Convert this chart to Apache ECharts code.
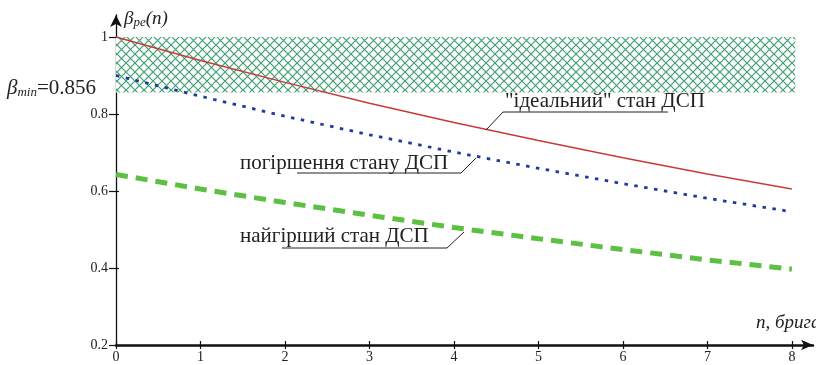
<!DOCTYPE html>
<html><head><meta charset="utf-8">
<script src="https://cdn.jsdelivr.net/npm/echarts@6/dist/echarts.min.js"></script>
<style>html,body{margin:0;padding:0;background:#fff}#c{width:816px;height:365px}</style>
</head><body><div id="c"></div>
<script>
var nValues = [0, 1, 2, 3, 4, 5, 6, 7, 8];
var idealState = [1.000, 0.939, 0.882, 0.828, 0.778, 0.731, 0.686, 0.644, 0.605];
var degradedState = [0.900, 0.846, 0.794, 0.746, 0.701, 0.659, 0.619, 0.581, 0.546];
var worstState = [0.643, 0.605, 0.570, 0.537, 0.505, 0.476, 0.448, 0.421, 0.397];
var yTicks = [0.2, 0.4, 0.6, 0.8, 1];
var xTicks = [0, 1, 2, 3, 4, 5, 6, 7, 8];
var betaMin = 0.856;
var betaMax = 1;

function pairs(vals){ return nValues.map(function(n,i){ return [n, vals[i]]; }); }

var pc = document.createElement('canvas');
pc.width = 9; pc.height = 9;
var cx = pc.getContext('2d');
cx.fillStyle = '#ffffff'; cx.fillRect(0,0,9,9);
cx.strokeStyle = '#3f9f72'; cx.lineWidth = 1.2;
cx.beginPath(); cx.moveTo(0,0); cx.lineTo(9,9); cx.moveTo(9,0); cx.lineTo(0,9); cx.stroke();

var serif = '"Liberation Serif", "DejaVu Serif", serif';
var chart = echarts.init(document.getElementById('c'), null, {renderer:'canvas'});
var option = {
  animation: false,
  backgroundColor: '#fff',
  grid: {left: 116, right: 3, top: 15, bottom: 20},
  xAxis: [{
    type: 'value', min: 0, max: 8.25,
    splitLine: {show: false},
    axisLine: {onZero: false, lineStyle: {color: '#111', width: 2.5}, symbol: ['none', 'arrow'], symbolSize: [8, 12]},
    axisTick: {customValues: xTicks, length: 4, lineStyle: {color: '#111', width: 1.2}},
    axisLabel: {customValues: xTicks, fontFamily: serif, fontSize: 14, color: '#222', margin: 5, formatter: function(v){return String(v);}}
  }, {
    type: 'value', min: 0, max: 8.25, position: 'bottom',
    splitLine: {show: false}, axisLine: {show: false}, axisLabel: {show: false},
    axisTick: {customValues: xTicks, inside: true, length: 4, lineStyle: {color: '#111', width: 1.2}}
  }],
  yAxis: [{
    type: 'value', min: 0.2, max: 1.057,
    splitLine: {show: false},
    axisLine: {onZero: false, lineStyle: {color: '#111', width: 1.3}, symbol: ['none', 'arrow'], symbolSize: [9, 12]},
    axisTick: {customValues: yTicks, length: 7, lineStyle: {color: '#111', width: 1.2}},
    axisLabel: {customValues: yTicks, fontFamily: serif, fontSize: 14, color: '#222', margin: 8, formatter: function(v){return String(v);}}
  }, {
    type: 'value', min: 0.2, max: 1.057, position: 'left',
    splitLine: {show: false}, axisLine: {show: false}, axisLabel: {show: false},
    axisTick: {customValues: yTicks, inside: true, length: 3, lineStyle: {color: '#111', width: 1.2}}
  }],
  series: [{
    type: 'line', name: 'ideal', data: pairs(idealState), showSymbol: false, smooth: false,
    lineStyle: {color: '#c83a3a', width: 1.5},
    z: 5,
    markArea: {
      silent: true,
      itemStyle: {color: {image: pc, repeat: 'repeat'}, opacity: 1},
      data: [[{coord: [0, betaMin]}, {coord: [8.04, betaMax]}]]
    }
  }, {
    type: 'line', name: 'degraded', data: pairs(degradedState), showSymbol: false,
    lineStyle: {color: '#1c3c9c', width: 2.8, type: [3.5, 6.5]}, z: 5
  }, {
    type: 'line', name: 'worst', data: pairs(worstState), showSymbol: false,
    lineStyle: {color: '#5cc043', width: 5, type: [12, 8]}, z: 5
  }],
  graphic: [
    {type: 'text', z: 100, left: 124, top: 9, style: {
      text: '{b|β}{s|pe}{b|(n)}',
      rich: {
        b: {fontFamily: serif, fontStyle: 'italic', fontSize: 19, fill: '#222'},
        s: {fontFamily: serif, fontStyle: 'italic', fontSize: 13, fill: '#222', padding: [8,0,0,0]}
      }}},
    {type: 'text', z: 100, left: 7, top: 78, style: {
      text: '{b|β}{s|min}{n|=0.856}',
      rich: {
        b: {fontFamily: serif, fontStyle: 'italic', fontSize: 21, fill: '#222'},
        s: {fontFamily: serif, fontStyle: 'italic', fontSize: 13, fill: '#222', padding: [9,0,0,0]},
        n: {fontFamily: serif, fontSize: 21, fill: '#222'}
      }}},
    {type: 'text', z: 100, left: 756, top: 313, style: {text: 'n, бригад', fontFamily: serif, fontStyle: 'italic', fontSize: 19, fill: '#222'}},
    {type: 'text', z: 100, x: 505, y: 101, style: {text: '"ідеальний" стан ДСП', fontFamily: serif, fontSize: 21, fill: '#222', verticalAlign: 'middle'}},
    {type: 'polyline', z: 100, shape: {points: [[668, 112], [503, 112], [486, 130]]}, style: {stroke: '#222', lineWidth: 1, fill: null}},
    {type: 'text', z: 100, x: 240, y: 163, style: {text: 'погіршення стану ДСП', fontFamily: serif, fontSize: 21, fill: '#222', verticalAlign: 'middle'}},
    {type: 'polyline', z: 100, shape: {points: [[297, 173], [461, 173], [476, 158]]}, style: {stroke: '#222', lineWidth: 1, fill: null}},
    {type: 'text', z: 100, x: 240, y: 236, style: {text: 'найгірший стан ДСП', fontFamily: serif, fontSize: 21, fill: '#222', verticalAlign: 'middle'}},
    {type: 'polyline', z: 100, shape: {points: [[282, 248], [447, 248], [464, 232]]}, style: {stroke: '#222', lineWidth: 1, fill: null}}
  ]
};
chart.setOption(option);
</script></body></html>
